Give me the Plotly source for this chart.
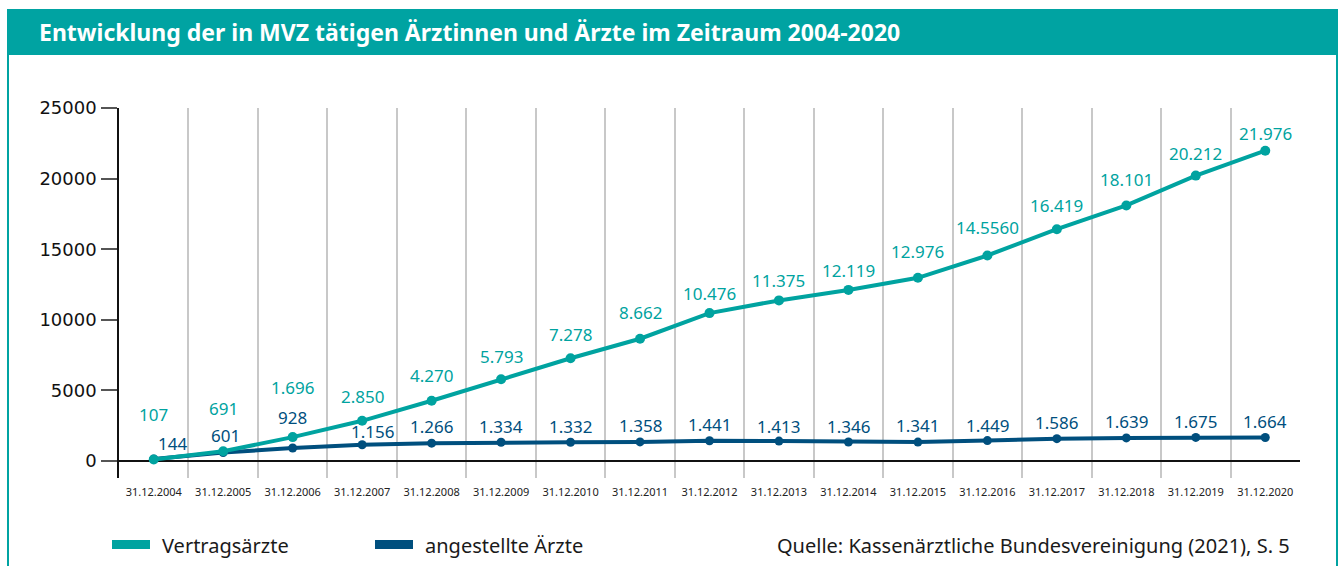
import plotly.graph_objects as go

# ---------------- data ----------------
categories = ["31.12.2004", "31.12.2005", "31.12.2006", "31.12.2007", "31.12.2008",
              "31.12.2009", "31.12.2010", "31.12.2011", "31.12.2012", "31.12.2013",
              "31.12.2014", "31.12.2015", "31.12.2016", "31.12.2017", "31.12.2018",
              "31.12.2019", "31.12.2020"]
vertragsaerzte = [107, 691, 1696, 2850, 4270, 5793, 7278, 8662, 10476, 11375,
                  12119, 12976, 14556, 16419, 18101, 20212, 21976]
vertrags_labels = ["107", "691", "1.696", "2.850", "4.270", "5.793", "7.278", "8.662",
                   "10.476", "11.375", "12.119", "12.976", "14.5560", "16.419",
                   "18.101", "20.212", "21.976"]
angestellte = [144, 601, 928, 1156, 1266, 1334, 1332, 1358, 1441, 1413,
               1346, 1341, 1449, 1586, 1639, 1675, 1664]
angestellte_labels = ["144", "601", "928", "1.156", "1.266", "1.334", "1.332", "1.358",
                      "1.441", "1.413", "1.346", "1.341", "1.449", "1.586", "1.639",
                      "1.675", "1.664"]
y_ticks = [0, 5000, 10000, 15000, 20000, 25000]
series_names = ["Vertragsärzte", "angestellte Ärzte"]
title_text = "Entwicklung der in MVZ tätigen Ärztinnen und Ärzte im Zeitraum 2004-2020"
source_text = "Quelle: Kassenärztliche Bundesvereinigung (2021), S. 5"

# ---------------- style ----------------
TEAL = "#00A3A0"
DARK = "#004F7E"
BAR = "#00A3A2"
W, H = 1344, 566
PL, PR, PT, PB = 119, 1300, 108, 478

# label offsets (pixels) – styling only
teal_dy = [45, 43, 50, 24, 25, 23, 24, 26, 20, 20, 19, 26, 28, 24, 26, 22, 17]
dark_dy = [16, 17, 30, 13, 17, 16, 16, 16, 16, 15, 16, 17, 15, 16, 16, 16, 16]
dark_dx = [19, 2, 0, 10, 0, 0, 0, 0, 0, 0, 0, 0, 0, 0, 0, 0, 0]


def px(x):
    return (x - PL) / (PR - PL)


def py(y):
    return (PB - y) / (PB - PT)


fig = go.Figure()
fig.add_trace(go.Scatter(x=categories, y=angestellte, mode="lines+markers",
                         name=series_names[1], line=dict(color=DARK, width=4),
                         marker=dict(color=DARK, size=9), hoverinfo="x+y"))
fig.add_trace(go.Scatter(x=categories, y=vertragsaerzte, mode="lines+markers",
                         name=series_names[0], line=dict(color=TEAL, width=4),
                         marker=dict(color=TEAL, size=10), hoverinfo="x+y"))

annotations = []
for i, c in enumerate(categories):
    annotations.append(dict(x=c, y=vertragsaerzte[i], xref="x", yref="y",
                            text=vertrags_labels[i], showarrow=False,
                            yshift=teal_dy[i],
                            font=dict(family="Noto Sans", size=17, color=TEAL)))
    annotations.append(dict(x=c, y=angestellte[i], xref="x", yref="y",
                            text=angestellte_labels[i], showarrow=False,
                            yshift=dark_dy[i], xshift=dark_dx[i],
                            font=dict(family="Noto Sans", size=17, color=DARK)))

# title
annotations.append(dict(x=px(37), y=py(32), xref="paper", yref="paper",
                        xanchor="left", yanchor="middle", showarrow=False,
                        text="<b>" + title_text + "</b>",
                        font=dict(family="Noto Sans", size=23, color="white")))
# legend texts
annotations.append(dict(x=px(160), y=py(545), xref="paper", yref="paper",
                        xanchor="left", yanchor="middle", showarrow=False,
                        text=series_names[0],
                        font=dict(family="Noto Sans", size=20, color="#1a1a1a")))
annotations.append(dict(x=px(423), y=py(545), xref="paper", yref="paper",
                        xanchor="left", yanchor="middle", showarrow=False,
                        text=series_names[1],
                        font=dict(family="Noto Sans", size=20, color="#1a1a1a")))
annotations.append(dict(x=px(1292), y=py(545), xref="paper", yref="paper",
                        xanchor="right", yanchor="middle", showarrow=False,
                        text=source_text,
                        font=dict(family="Noto Sans", size=20, color="#1a1a1a")))

shapes = [
    # title bar
    dict(type="rect", xref="paper", yref="paper", x0=px(7), x1=px(1338),
         y0=py(9), y1=py(55), fillcolor=BAR, line=dict(width=0), layer="below"),
    # frame lines
    dict(type="line", xref="paper", yref="paper", x0=px(8), x1=px(8),
         y0=py(55), y1=py(570), line=dict(color=BAR, width=2)),
    dict(type="line", xref="paper", yref="paper", x0=px(1337), x1=px(1337),
         y0=py(55), y1=py(570), line=dict(color=BAR, width=2)),
    # legend keys
    dict(type="rect", xref="paper", yref="paper", x0=px(112), x1=px(150),
         y0=py(540), y1=py(549), fillcolor=TEAL, line=dict(width=0)),
    dict(type="rect", xref="paper", yref="paper", x0=px(375), x1=px(413),
         y0=py(540), y1=py(549), fillcolor=DARK, line=dict(width=0)),
]

fig.update_layout(
    width=W, height=H,
    margin=dict(l=PL, r=W - PR, t=PT, b=H - PB, pad=0),
    paper_bgcolor="white", plot_bgcolor="white",
    showlegend=False,
    annotations=annotations,
    shapes=shapes,
    xaxis=dict(type="category", range=[-0.5, 16.5], tickson="boundaries",
               showgrid=True, gridcolor="#c8c8c8", gridwidth=1.5,
               showline=False, zeroline=False, ticks="", fixedrange=True,
               tickfont=dict(family="Noto Sans", size=11, color="#222222"),
               ticklabelstandoff=6),
    yaxis=dict(range=[-1200, 25000], tickvals=y_ticks,
               ticktext=[str(v) for v in y_ticks],
               showgrid=False, showline=True, linecolor="#111111", linewidth=1.5,
               zeroline=True, zerolinecolor="#111111", zerolinewidth=1.5,
               ticks="outside", ticklen=16, tickwidth=1.5, tickcolor="#555555",
               tickfont=dict(family="DejaVu Sans", size=18, color="#111111"),
               ticklabelstandoff=1, fixedrange=True),
)

fig.write_html("out.html", config={"displayModeBar": False},
               post_script="document.body.style.margin='0';document.body.style.overflow='hidden';")
